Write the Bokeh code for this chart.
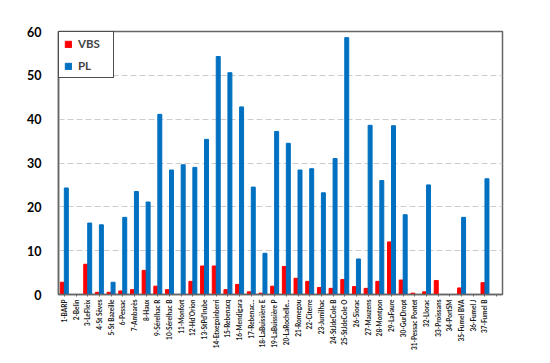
from bokeh.plotting import figure
from bokeh.models import ColumnDataSource, FactorRange, FixedTicker
from bokeh.transform import dodge
from bokeh.embed import file_html
from bokeh.resources import INLINE

sites = ["1-BARP", "2-Belin", "3-LeFleix", "4-St Sèves", "5-St Bazeille", "6-Pessac",
         "7-Ambarès", "8-Haux", "9-Sérelhac R", "10-Sérelhac B", "11-Monfort",
         "12-Hd'Orion", "13-StPd'Irube", "14-Etxegoinberri", "15-Rebenacq",
         "16-Mendigara", "17-Rebenac...", "18-LaBuissière E", "19-LaBuissière P",
         "20-LaRochelle...", "21-Romegou", "22-Citerre", "23-Jumilhac",
         "24-StJdeCole B", "25-StJdeCole O", "26-Siorac", "27-Mauzens", "28-Montpon",
         "29-LaFaure", "30-GurDropt", "31-Pessac Pontet", "32-Llorac", "33-Proissans",
         "34-PortSM", "35-Fumel BVA", "36-Fumel J", "37-Fumel B"]

vbs = [2.8, 0, 6.9, 0.5, 0.5, 0.8, 1.1, 5.5, 1.9, 1.1, 0, 3.0, 6.5, 6.5, 1.1, 2.3,
       0.6, 0.3, 1.9, 6.4, 3.7, 3.0, 1.6, 1.4, 3.4, 1.8, 1.4, 3.0, 12.0, 3.3, 0.3,
       0.6, 3.2, 0, 1.5, 0, 2.7]

pl = [24.3, 0, 16.3, 15.9, 2.8, 17.6, 23.5, 21.1, 41.1, 28.4, 29.6, 29.0, 35.4,
      54.3, 50.6, 42.8, 24.5, 9.4, 37.2, 34.5, 28.4, 28.7, 23.2, 31.0, 58.6, 8.1,
      38.6, 26.0, 38.5, 18.2, 0, 25.0, 0, 0, 17.6, 0, 26.4]

y_ticks = [0, 10, 20, 30, 40, 50, 60]

src = ColumnDataSource(dict(site=sites, vbs=vbs, pl=pl))

# one empty slot after the last site, as in the original category axis
xr = FactorRange(factors=sites + [" "])

p = figure(x_range=xr, y_range=(0, 60), width=542, height=355,
           output_backend="svg", toolbar_location=None,
           min_border_left=58, min_border_right=40, min_border_top=31,
           min_border_bottom=61)
p.styles = {"outline": "1.5px solid #d4d4d4", "outline-offset": "-2px"}

p.vbar(x=dodge("site", -0.17, range=xr), top="vbs", width=0.34, source=src,
       color="#FF0000", legend_label="VBS")
p.vbar(x=dodge("site", 0.17, range=xr), top="pl", width=0.34, source=src,
       color="#0070C0", legend_label="PL")

p.outline_line_color = "#666666"
p.outline_line_alpha = 1.0
p.outline_line_width = 1.5

p.yaxis.ticker = FixedTicker(ticks=y_ticks)
p.yaxis.axis_line_color = "#666666"
p.yaxis.axis_line_width = 1.5
p.yaxis.major_tick_line_color = None
p.yaxis.minor_tick_line_color = None
p.yaxis.major_label_text_font = "Lato"
p.yaxis.major_label_text_font_style = "bold"
p.yaxis.major_label_text_font_size = "12.5px"
p.yaxis.major_label_text_color = "#000000"
p.yaxis.major_label_standoff = 11

p.xaxis.axis_line_color = "#666666"
p.xaxis.axis_line_width = 1.5
p.xaxis.major_tick_line_color = "#666666"
p.xaxis.major_tick_out = 2
p.xaxis.major_tick_in = 0
p.xaxis.major_label_orientation = 3.14159265 / 2
p.xaxis.major_label_text_font = "Lato"
p.xaxis.major_label_text_font_style = "bold"
p.xaxis.major_label_text_font_size = "6.5px"
p.xaxis.major_label_text_color = "#1a1a1a"
p.xaxis.major_label_standoff = 3

p.xgrid.grid_line_color = None
p.ygrid.grid_line_color = "#cccccc"
p.ygrid.grid_line_dash = "6 3"

leg = p.legend[0]
leg.location = "top_left"
leg.margin = 0
leg.padding = 5
leg.spacing = 9
leg.glyph_width = 8
leg.glyph_height = 8
leg.label_standoff = 6
leg.label_height = 12
leg.label_width = 30
leg.label_text_font = "Lato"
leg.label_text_font_style = "bold"
leg.label_text_font_size = "11.5px"
leg.border_line_color = "#4d4d4d"
leg.border_line_alpha = 1.0
leg.border_line_width = 1.5
leg.background_fill_alpha = 1

open("out.html", "w").write(file_html(p, INLINE))
